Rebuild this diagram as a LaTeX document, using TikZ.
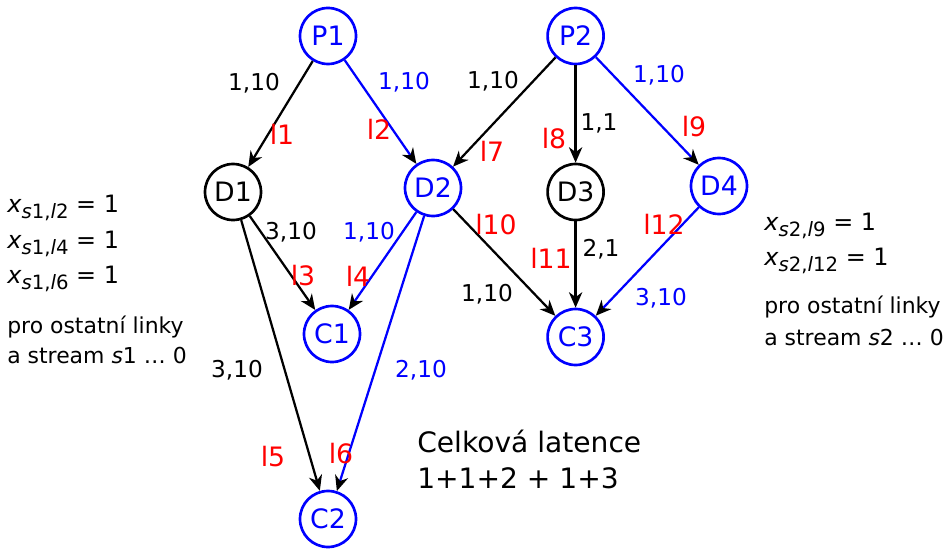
\documentclass[tikz,border=0pt]{standalone}
\usepackage{fontspec}
\setmainfont{DejaVu Sans}
\usetikzlibrary{arrows.meta}
\newcommand{\xsl}[2]{{\fontsize{17}{20}\selectfont\textit{x}\raisebox{-0.5ex}{\fontsize{14}{16}\selectfont\textit{s}#1,\textit{l}#2}~=~1}}
\begin{document}
\begin{tikzpicture}[>={Stealth[length=11pt,width=9.5pt,inset=3.5pt,color=black]},
    dev/.style={circle, draw, line width=1.9pt, minimum size=1.4cm, inner sep=0pt, font=\fontsize{19}{22}\selectfont},
    bdev/.style={dev, blue, text=blue},
    link/.style={->, line width=1.6pt},
    blink/.style={link, blue},
    wt/.style={font=\fontsize{16.5}{19}\selectfont},
    bwt/.style={wt, text=blue},
    lname/.style={font=\fontsize{19}{22}\selectfont, text=red},
    note/.style={anchor=base west, inner sep=0pt, font=\fontsize{15.6}{18}\selectfont}]
    \useasboundingbox (0,0) rectangle (23.7,13.7);
    % devices
    \node[bdev] (P1) at (8.2,12.8) {P1};
    \node[bdev] (P2) at (14.39,12.8) {P2};
    \node[dev] (D1) at (5.825,8.9) {D1};
    \node[bdev] (D2) at (10.825,9.0) {D2};
    \node[dev] (D3) at (14.39,8.9) {D3};
    \node[bdev] (D4) at (17.975,9.05) {D4};
    \node[bdev] (C1) at (8.3,5.35) {C1};
    \node[bdev] (C2) at (8.2,0.725) {C2};
    \node[bdev] (C3) at (14.39,5.275) {C3};
    % links
    \draw[link] (P1) -- (D1);
    \draw[blink] (P1) -- (D2);
    \draw[link] (P2) -- (D2);
    \draw[link] (P2) -- (D3);
    \draw[blink] (P2) -- (D4);
    \draw[link] (D1) -- (C1);
    \draw[blink] (D2) -- (C1);
    \draw[link] (D1) -- (C2);
    \draw[blink] (D2) -- (C2);
    \draw[link] (D2) -- (C3);
    \draw[link] (D3) -- (C3);
    \draw[blink] (D4) -- (C3);
    % weights
    \node[wt] (w1) at (6.35,11.625) {1,10};
    \node[bwt] (w2) at (10.1,11.65) {1,10};
    \node[wt] (w7) at (12.325,11.675) {1,10};
    \node[wt] (w8) at (14.975,10.625) {1,1};
    \node[bwt] (w9) at (16.475,11.825) {1,10};
    \node[wt] (w3) at (7.275,7.9) {3,10};
    \node[bwt] (w4) at (9.225,7.9) {1,10};
    \node[wt] (w5) at (5.925,4.45) {3,10};
    \node[bwt] (w6) at (10.525,4.45) {2,10};
    \node[wt] (w10) at (12.175,6.35) {1,10};
    \node[wt] (w11) at (15.025,7.475) {2,1};
    \node[bwt] (w12) at (16.525,6.25) {3,10};
    % link names
    \node[lname] (l1) at (7.05,10.35) {l1};
    \node[lname] (l2) at (9.475,10.475) {l2};
    \node[lname] (l3) at (7.575,6.8) {l3};
    \node[lname] (l4) at (8.95,6.8) {l4};
    \node[lname] (l5) at (6.825,2.275) {l5};
    \node[lname] (l6) at (8.525,2.35) {l6};
    \node[lname] (l7) at (12.3,9.925) {l7};
    \node[lname] (l8) at (13.85,10.225) {l8};
    \node[lname] (l9) at (17.35,10.525) {l9};
    \node[lname] (l10) at (12.4,8.075) {l10};
    \node[lname] (l11) at (13.775,7.25) {l11};
    \node[lname] (l12) at (16.6,8.1) {l12};
    % stream s1
    \node[note] (s1a) at (0.175,8.4) {\xsl{1}{2}};
    \node[note] (s1b) at (0.175,7.5) {\xsl{1}{4}};
    \node[note] (s1c) at (0.175,6.625) {\xsl{1}{6}};
    \node[note] (s1d) at (0.175,5.375) {pro ostatní linky};
    \node[note] (s1e) at (0.175,4.625) {a stream \textit{s}1 \ldots{} 0};
    % stream s2
    \node[note] (s2a) at (19.1,7.95) {\xsl{2}{9}};
    \node[note] (s2b) at (19.1,7.075) {\xsl{2}{12}};
    \node[note] (s2c) at (19.1,5.875) {pro ostatní linky};
    \node[note] (s2d) at (19.1,5.075) {a stream \textit{s}2 \ldots{} 0};
    % total latency
    \node[note, font=\fontsize{20}{24}\selectfont] (lat1) at (10.425,2.4) {Celková latence};
    \node[note, font=\fontsize{20}{24}\selectfont] (lat2) at (10.425,1.5) {1+1+2 + 1+3};
\end{tikzpicture}
\end{document}
